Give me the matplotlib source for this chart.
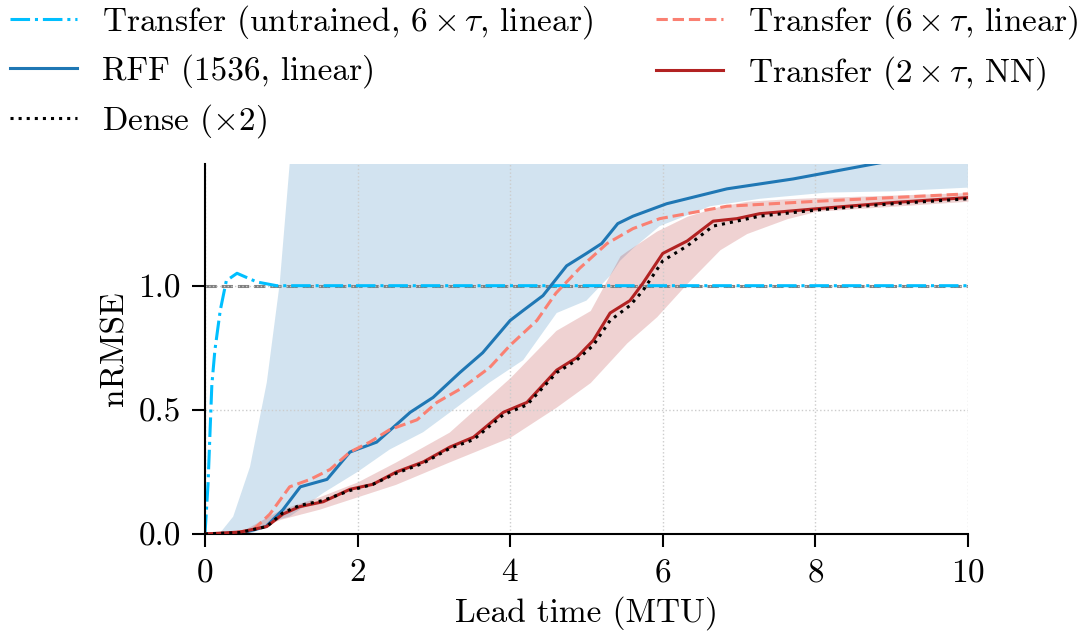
"""
nRMSE vs lead time for transfer / RFF / dense models
"""
import matplotlib
matplotlib.use('Agg')
import matplotlib.pyplot as plt
import numpy as np

plt.rcParams['font.family'] = 'cmr10'
plt.rcParams['mathtext.fontset'] = 'cm'
plt.rcParams['axes.formatter.use_mathtext'] = True
plt.rcParams['font.size'] = 24

# data
cyan_x = [0, 0.04, 0.09, 0.13, 0.2, 0.28, 0.42, 0.68, 0.94, 1.2, 10]
cyan_y = [0, 0.2, 0.6, 0.74, 0.9, 1.02, 1.05, 1.015, 1.0, 1.0, 1.0]

rff_x = [0, 0.5, 0.8, 1.02, 1.25, 1.6, 1.9, 2.25, 2.69, 2.99, 3.34, 3.64,
         4.0, 4.17, 4.43, 4.74, 5.0, 5.2, 5.41, 5.61, 6.05, 6.84, 7.71, 8.76, 10]
rff_y = [0, 0.005, 0.03, 0.097, 0.19, 0.22, 0.33, 0.37, 0.49, 0.55, 0.65, 0.73,
         0.86, 0.90, 0.96, 1.08, 1.13, 1.17, 1.25, 1.28, 1.33, 1.39, 1.43, 1.49, 1.56]

tr6_x = [0, 0.3, 0.63, 0.85, 1.11, 1.38, 1.64, 1.9, 2.16, 2.42, 2.78, 3.04,
         3.38, 3.73, 4.0, 4.35, 4.6, 4.91, 5.27, 5.61, 5.96, 6.84, 8.02, 9.02, 10]
tr6_y = [0, 0.002, 0.016, 0.08, 0.19, 0.22, 0.26, 0.33, 0.37, 0.42, 0.46, 0.53,
         0.59, 0.67, 0.76, 0.86, 0.97, 1.07, 1.17, 1.23, 1.27, 1.32, 1.34, 1.355, 1.37]

nn_x = [0, 0.46, 0.81, 1.02, 1.24, 1.55, 1.9, 2.2, 2.51, 2.86, 3.21, 3.52, 3.91,
        4.22, 4.61, 4.87, 5.09, 5.31, 5.57, 5.74, 6.0, 6.32, 6.66, 6.97, 7.27,
        8.02, 9.02, 10]
nn_y = [0, 0.008, 0.03, 0.08, 0.11, 0.13, 0.18, 0.20, 0.25, 0.29, 0.35, 0.39, 0.49,
        0.53, 0.66, 0.71, 0.78, 0.89, 0.94, 1.01, 1.13, 1.18, 1.26, 1.27, 1.29,
        1.31, 1.335, 1.355]
dense_y = [0, 0.006, 0.03, 0.085, 0.115, 0.135, 0.175, 0.20, 0.245, 0.285, 0.345,
           0.38, 0.48, 0.52, 0.65, 0.70, 0.76, 0.86, 0.92, 0.98, 1.10, 1.16, 1.24,
           1.26, 1.28, 1.305, 1.33, 1.35]

rff_band_x = [0, 0.2, 0.37, 0.59, 0.81, 0.98, 1.11, 1.3, 1.55, 2.0, 2.42, 2.86,
              3.3, 3.73, 4.17, 4.61, 5.0, 5.31, 5.44, 5.61, 5.96, 6.62, 7.27,
              8.15, 9.02, 10]
rff_lo = [0, 0, 0, 0, 0.03, 0.06, 0.07, 0.11, 0.165, 0.25, 0.34, 0.41,
          0.51, 0.61, 0.70, 0.89, 0.94, 1.04, 1.10, 1.15, 1.24, 1.32, 1.35,
          1.375, 1.38, 1.395]
rff_hi = [0, 0.005, 0.07, 0.27, 0.61, 1.01, 1.49, 2.0, 2.5, 3.0, 3.0, 3.0,
          3.0, 3.0, 3.0, 3.0, 3.0, 3.0, 3.0, 3.0, 3.0, 3.0, 3.0,
          3.0, 3.0, 3.0]

nn_band_x = [0, 0.5, 1.0, 1.5, 2.0, 2.5, 3.2, 4.0, 4.6, 5.05, 5.44, 5.53, 5.92,
             6.32, 6.75, 7.1, 7.63, 8.02, 9.02, 10]
nn_lo = [0, 0.003, 0.06, 0.10, 0.15, 0.20, 0.29, 0.39, 0.51, 0.61, 0.74, 0.77, 0.875,
         1.01, 1.145, 1.21, 1.27, 1.30, 1.32, 1.34]
nn_hi = [0, 0.015, 0.10, 0.15, 0.21, 0.29, 0.41, 0.63, 0.82, 0.90, 1.12, 1.14, 1.22,
         1.28, 1.32, 1.34, 1.35, 1.355, 1.365, 1.375]

fig = plt.figure(figsize=(10.92, 6.37), dpi=100)
ax = fig.add_axes([0.1877, 0.1617, 0.6987, 0.5808])

ax.fill_between(rff_band_x, rff_lo, rff_hi, color='#1f77b4', alpha=0.2, lw=0)
ax.fill_between(nn_band_x, nn_lo, nn_hi, color='#b22222', alpha=0.2, lw=0)

ax.axhline(1.0, color='gray', ls='--', lw=2.2, zorder=1)

ax.plot(cyan_x, cyan_y, color='#00bfff', ls='-.', lw=2.2,
        label=r'Transfer (untrained, $6\times\tau$, linear)')
ax.plot(rff_x, rff_y, color='#1f77b4', lw=2.2, label='RFF (1536, linear)')
ax.plot(nn_x, dense_y, color='black', ls=':', lw=2.2, label=r'Dense ($\times 2$)', zorder=4)
ax.plot(tr6_x, tr6_y, color='#fa8072', ls='--', lw=2.2,
        label=r'Transfer ($6\times\tau$, linear)')
ax.plot(nn_x, nn_y, color='#b22222', lw=2.2, label=r'Transfer ($2\times\tau$, NN)', zorder=3)

ax.set_xlim(0, 10)
ax.set_ylim(0, 1.49)
ax.set_xticks([0, 2, 4, 6, 8, 10])
ax.set_yticks([0.0, 0.5, 1.0])
ax.set_yticklabels(['0.0', '0.5', '1.0'])
ax.set_xlabel('Lead time (MTU)', labelpad=6)
ax.set_ylabel('nRMSE', labelpad=6)
ax.grid(True, ls=':', color='#cccccc', lw=1)
ax.spines['top'].set_visible(False)
ax.spines['right'].set_visible(False)
ax.spines['left'].set_linewidth(1.5)
ax.spines['bottom'].set_linewidth(1.5)
ax.tick_params(width=1.5, length=9.5, pad=8)

fig.legend(loc='upper left', bbox_to_anchor=(-0.018, 1.042), ncol=2, frameon=False,
           handlelength=2.0, columnspacing=1.9, handletextpad=0.75, labelspacing=0.4)

fig.savefig('out.png', dpi=100)
